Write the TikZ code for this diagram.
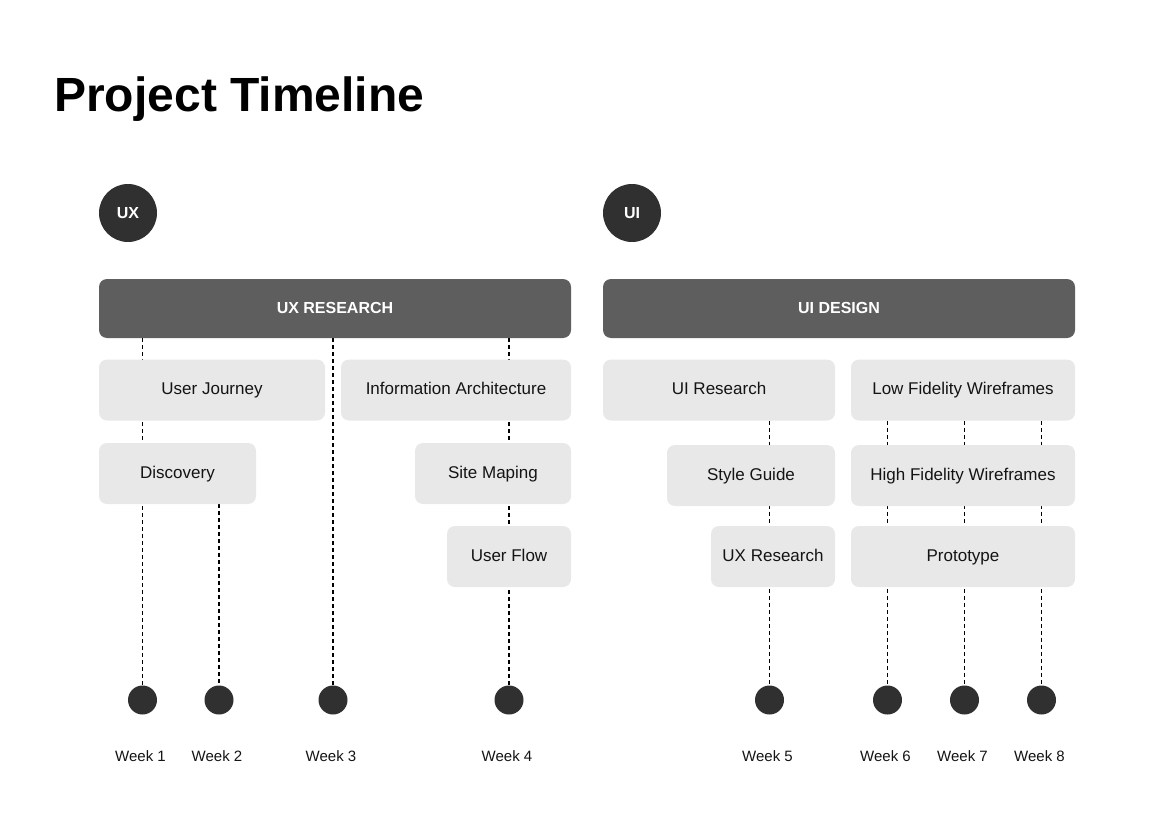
\documentclass[tikz,border=0pt]{standalone}
\usepackage{fontspec}
\setmainfont{Liberation Sans}
\usetikzlibrary{positioning,backgrounds}

\definecolor{bargray}{HTML}{5E5E5E}
\definecolor{boxgray}{HTML}{E8E8E8}
\definecolor{dotgray}{HTML}{303030}
\definecolor{inkgray}{HTML}{141414}

\begin{document}
\begin{tikzpicture}[
        x=0.75pt,
        y=-0.75pt,
        phase/.style={
                rectangle,
                rounded corners=6pt,
                fill=bargray,
                text=white,
                text centered,
                inner sep=0pt,
                text height=0.72em,
                text depth=0pt,
                minimum width=354pt,
                minimum height=44.25pt,
                font=\bfseries\fontsize{12}{14}\selectfont
            },
        task/.style={
                rectangle,
                rounded corners=6pt,
                fill=boxgray,
                text=inkgray,
                text centered,
                inner sep=0pt,
                text height=0.72em,
                text depth=0pt,
                minimum height=45.75pt,
                font=\fontsize{12.75}{15}\selectfont
            },
        badge/.style={
                circle,
                fill=dotgray,
                text=white,
                inner sep=0pt,
                minimum size=43.5pt,
                font=\bfseries\fontsize{12}{14}\selectfont
            },
        milestone/.style={
                circle,
                fill=dotgray,
                inner sep=0pt,
                minimum size=21.75pt
            },
        week/.style={
                inner sep=0pt,
                text=inkgray,
                font=\fontsize{11.25}{13}\selectfont
            },
        link/.style={
                draw=black,
                line width=0.8pt,
                dash pattern=on 3pt off 2.25pt
            }
    ]
    \node[anchor=base west,inner sep=0pt,font=\bfseries\fontsize{36}{42}\selectfont] (title) at (54,112) {Project Timeline};

    \node[badge] (ux) at (128,213) {UX};
    \node[badge] (ui) at (632,213) {UI};

    \node[phase] (uxbar) at (335,308.5) {UX RESEARCH};
    \node[phase] (uibar) at (839,308.5) {UI DESIGN};

    % UX tasks
    \node[task,minimum width=169.5pt] (journey) at (212,390) {User Journey};
    \node[task,minimum width=172.5pt] (infoarch) at (456,390) {Information Architecture};
    \node[task,minimum width=117.75pt] (discovery) at (177.5,473.5) {Discovery};
    \node[task,minimum width=117pt] (sitemap) at (493,473.5) {Site Maping};
    \node[task,minimum width=93pt] (userflow) at (509,556.5) {User Flow};

    % UI tasks
    \node[task,minimum width=174pt] (uiresearch) at (719,390) {UI Research};
    \node[task,minimum width=168pt] (lofi) at (963,390) {Low Fidelity Wireframes};
    \node[task,minimum width=126pt] (styleguide) at (751,475.5) {Style Guide};
    \node[task,minimum width=168pt] (hifi) at (963,475.5) {High Fidelity Wireframes};
    \node[task,minimum width=93pt] (uxresearch) at (773,556.5) {UX Research};
    \node[task,minimum width=168pt] (prototype) at (963,556.5) {Prototype};

    % milestones
    \node[milestone] (m1) at (142.5,700) {};
    \node[milestone] (m2) at (219,700) {};
    \node[milestone] (m3) at (333,700) {};
    \node[milestone] (m4) at (509,700) {};
    \node[milestone] (m5) at (769.5,700) {};
    \node[milestone] (m6) at (887.5,700) {};
    \node[milestone] (m7) at (964.5,700) {};
    \node[milestone] (m8) at (1041.5,700) {};

    \node[week] (w1) [below=27pt of m1,xshift=-1.5pt] {Week 1};
    \node[week] (w2) [below=27pt of m2,xshift=-1.5pt] {Week 2};
    \node[week] (w3) [below=27pt of m3,xshift=-1.5pt] {Week 3};
    \node[week] (w4) [below=27pt of m4,xshift=-1.5pt] {Week 4};
    \node[week] (w5) [below=27pt of m5,xshift=-1.5pt] {Week 5};
    \node[week] (w6) [below=27pt of m6,xshift=-1.5pt] {Week 6};
    \node[week] (w7) [below=27pt of m7,xshift=-1.5pt] {Week 7};
    \node[week] (w8) [below=27pt of m8,xshift=-1.5pt] {Week 8};

    \begin{pgfonlayer}{background}
        \fill[white] (0,0) rectangle (1174,838);
        \draw[link] (uxbar.south -| m1) -- (m1);
        \draw[link] (discovery.south -| m2) -- (m2);
        \draw[link] (uxbar.south -| m3) -- (m3);
        \draw[link] (uxbar.south -| m4) -- (m4);
        \draw[link] (uiresearch.south -| m5) -- (m5);
        \draw[link] (lofi.south -| m6) -- (m6);
        \draw[link] (lofi.south -| m7) -- (m7);
        \draw[link] (lofi.south -| m8) -- (m8);
    \end{pgfonlayer}
\end{tikzpicture}
\end{document}
